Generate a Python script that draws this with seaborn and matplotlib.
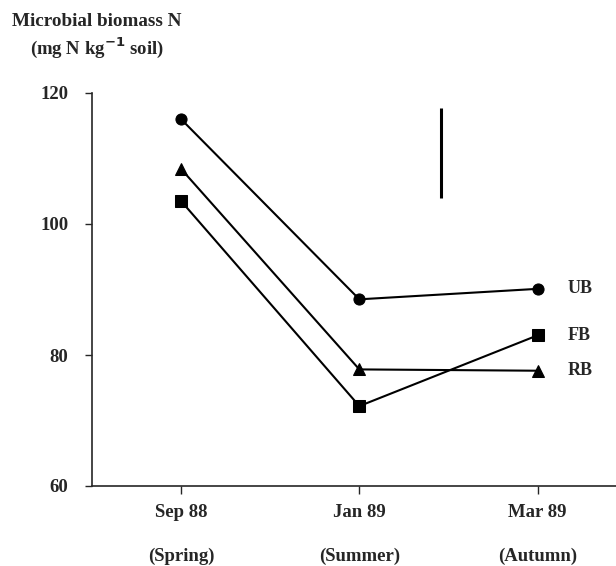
import matplotlib
matplotlib.use("Agg")
import matplotlib.pyplot as plt
import matplotlib.transforms as mtransforms
import seaborn as sns
import pandas as pd

# ---- data ----
dates = ["Sep 88", "Jan 89", "Mar 89"]
seasons = ["(Spring)", "(Summer)", "(Autumn)"]
treatments = ["UB", "FB", "RB"]
ub = [116.0, 88.5, 90.1]
fb = [103.5, 72.2, 83.0]
rb = [108.4, 77.8, 77.6]
lsd_low, lsd_high = 103.9, 117.7
yticks = [60, 80, 100, 120]

rows = []
for name, vals in zip(treatments, [ub, fb, rb]):
    for d, v in zip(dates, vals):
        rows.append({"date": d, "value": v, "treatment": name})
df = pd.DataFrame(rows)

sns.set_style("ticks")
plt.rcParams["font.family"] = ["Liberation Serif", "DejaVu Serif"]
plt.rcParams["font.weight"] = "bold"

fig = plt.figure(figsize=(6.16, 5.66), dpi=100)
ax = fig.add_axes([92 / 616, 1 - 486 / 566, 1 - 92 / 616, (486 - 93) / 566])

sns.lineplot(data=df, x="date", y="value", style="treatment",
             markers={"UB": "o", "FB": "s", "RB": "^"}, dashes=False,
             color="black", markersize=8, linewidth=1.5,
             markeredgecolor="black", legend=False, ax=ax, sort=False)

# LSD bar
ax.vlines(1.46, lsd_low, lsd_high, color="black", linewidth=2.2)

# series labels
for name, vals in zip(treatments, [ub, fb, rb]):
    ax.text(2.17, vals[-1], name, fontsize=13, fontweight="bold",
            va="center", ha="left")

ax.set_xlim(-0.5, 2.44)
ax.set_ylim(60, 120)
ax.set_yticks(yticks)
ax.set_yticklabels([str(t) for t in yticks], fontsize=13.5, fontweight="bold")
ax.set_xticks(range(len(dates)))
ax.set_xticklabels([f"{d}\n{s}" for d, s in zip(dates, seasons)],
                   fontsize=13.5, fontweight="bold", linespacing=3.0)
shift = mtransforms.ScaledTranslation(-6 / 100, 0, fig.dpi_scale_trans)
for lab in ax.get_xticklabels():
    lab.set_transform(lab.get_transform() + shift)
ax.set_xlabel("")
ax.set_ylabel("")
ax.tick_params(axis="x", direction="out", length=6, width=1, pad=7)
ax.tick_params(axis="y", direction="out", length=5, width=1, pad=12)
for s in ["top", "right"]:
    ax.spines[s].set_visible(False)
ax.spines["left"].set_linewidth(1.2)
ax.spines["bottom"].set_linewidth(1.2)

fig.text(12 / 616, 1 - 22 / 566, "Microbial biomass N", fontsize=13.8,
         fontweight="bold", va="center", ha="left")
fig.text(30 / 616, 1 - 48 / 566, "(mg N kg$^{\\mathbf{-1}}$ soil)", fontsize=13.5,
         fontweight="bold", va="center", ha="left")

fig.savefig("out.png", dpi=100)
